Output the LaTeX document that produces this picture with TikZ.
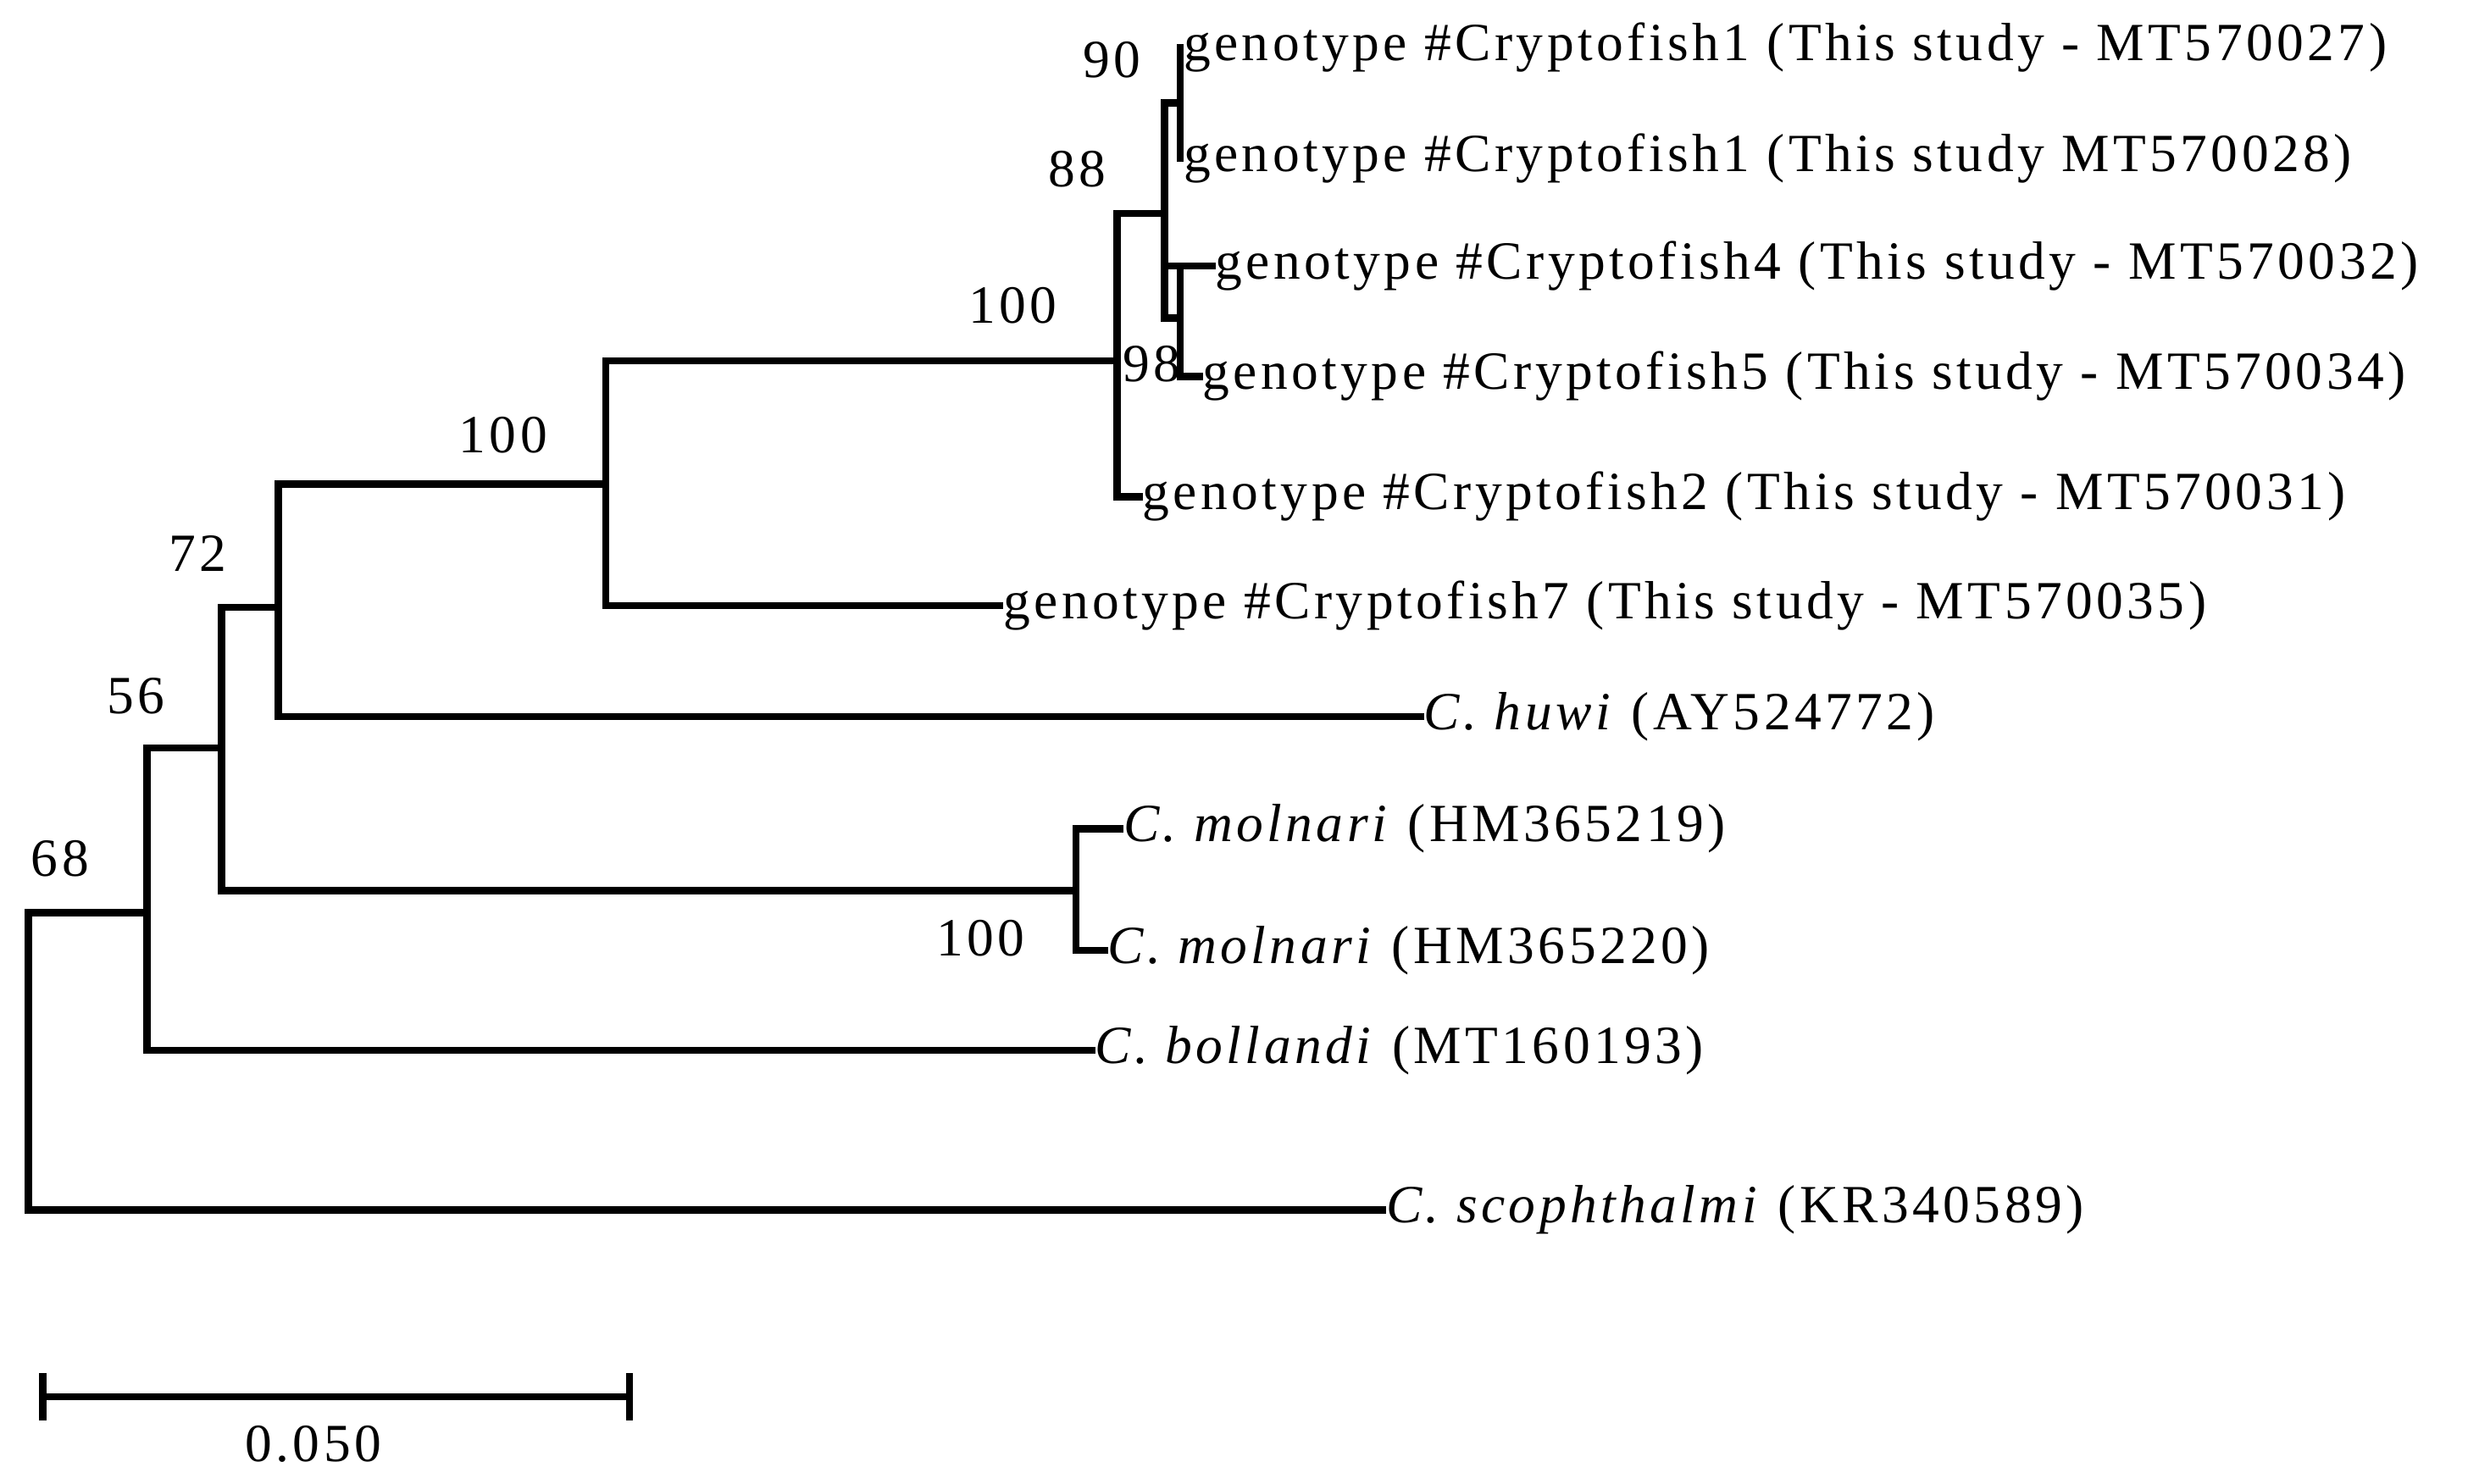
\documentclass[tikz,border=0pt]{standalone}
\usepackage{fontspec}
\setmainfont{Liberation Serif}[LetterSpace=7]
\begin{document}
\begin{tikzpicture}[x=1pt,y=-1pt,
  br/.style={line width=4.5pt,line cap=rect},
  lf/.style={anchor=west,inner sep=2pt,font=\fontsize{34}{36}\selectfont},
  bs/.style={inner sep=0pt,font=\fontsize{34}{36}\selectfont}]
\useasboundingbox (0,0) rectangle (1560,938);
% internal nodes
\coordinate (r) at (18,674);
\coordinate (n56) at (93,577);
\coordinate (n72) at (140,473);
\coordinate (n100a) at (176,384);
\coordinate (n100b) at (383,306);
\coordinate (n100c) at (706,228);
\coordinate (n88) at (736,135);
\coordinate (n90) at (746,65);
\coordinate (n98) at (746,201);
\coordinate (nm) at (680,563);
% leaves
\node[lf] (c1) at (746,30) {genotype \#Cryptofish1 (This study - MT570027)};
\node[lf] (c1b) at (746,100) {genotype \#Cryptofish1 (This study MT570028)};
\node[lf] (c4) at (766,168) {genotype \#Cryptofish4 (This study - MT570032)};
\node[lf] (c5) at (758,238) {genotype \#Cryptofish5 (This study - MT570034)};
\node[lf] (c2) at (720,314) {genotype \#Cryptofish2 (This study - MT570031)};
\node[lf] (c7) at (632,383) {genotype \#Cryptofish7 (This study - MT570035)};
\node[lf] (hu) at (898,453) {\textit{C. huwi} (AY524772)};
\node[lf] (m1) at (708,524) {\textit{C. molnari} (HM365219)};
\node[lf] (m2) at (698,601) {\textit{C. molnari} (HM365220)};
\node[lf] (bo) at (690,664) {\textit{C. bollandi} (MT160193)};
\node[lf] (sc) at (874,765) {\textit{C. scophthalmi} (KR340589)};
% branches
\draw[br] (c1.west) -- (c1b.west);
\draw[br] (n88|-c4.west) -- (n98|-c4.west) -- (c4.west);
\draw[br] (n98|-c4.west) -- (n98|-c5.west) -- (c5.west);
\draw[br] (n88|-n90) -- (n90);
\draw[br] (n88|-n90) -- (n88|-n98);
\draw[br] (n88|-n98) -- (n98|-n98);
\draw[br] (n100c|-n88) -- (n88);
\draw[br] (n100c|-n88) -- (n100c|-c2.west) -- (c2.west);
\draw[br] (n100b|-n100c) -- (n100c);
\draw[br] (n100b|-n100c) -- (n100b|-c7.west) -- (c7.west);
\draw[br] (n100a|-n100b) -- (n100b);
\draw[br] (n100a|-n100b) -- (n100a|-hu.west) -- (hu.west);
\draw[br] (n72|-n100a) -- (n100a);
\draw[br] (n72|-n100a) -- (n72|-nm) -- (nm);
\draw[br] (nm|-m1.west) -- (m1.west);
\draw[br] (nm|-m1.west) -- (nm|-m2.west) -- (m2.west);
\draw[br] (n56|-n72) -- (n72);
\draw[br] (n56|-n72) -- (n56|-bo.west) -- (bo.west);
\draw[br] (r|-n56) -- (n56);
\draw[br] (r|-n56) -- (r|-sc.west) -- (sc.west);
% bootstrap labels
\node[bs] (b90) at (703,38) {90};
\node[bs] (b88) at (681,107) {88};
\node[bs] (b100c) at (640,193) {100};
\node[bs] (b98) at (728,230) {98};
\node[bs] (b100b) at (318,275) {100};
\node[bs] (b72) at (125,350) {72};
\node[bs] (b56) at (86,440) {56};
\node[bs] (b68) at (38,543) {68};
\node[bs] (b100m) at (620,593) {100};
% scale bar
\coordinate (s1) at (27,883);
\coordinate (s2) at (398,883);
\draw[line width=4.5pt] (s1) -- (s2);
\draw[line width=4.5pt] ([yshift=-15pt]s1) -- ([yshift=15pt]s1);
\draw[line width=4.5pt] ([yshift=-15pt]s2) -- ([yshift=15pt]s2);
\node[bs] (sl) at (198,913) {0.050};
\end{tikzpicture}
\end{document}
